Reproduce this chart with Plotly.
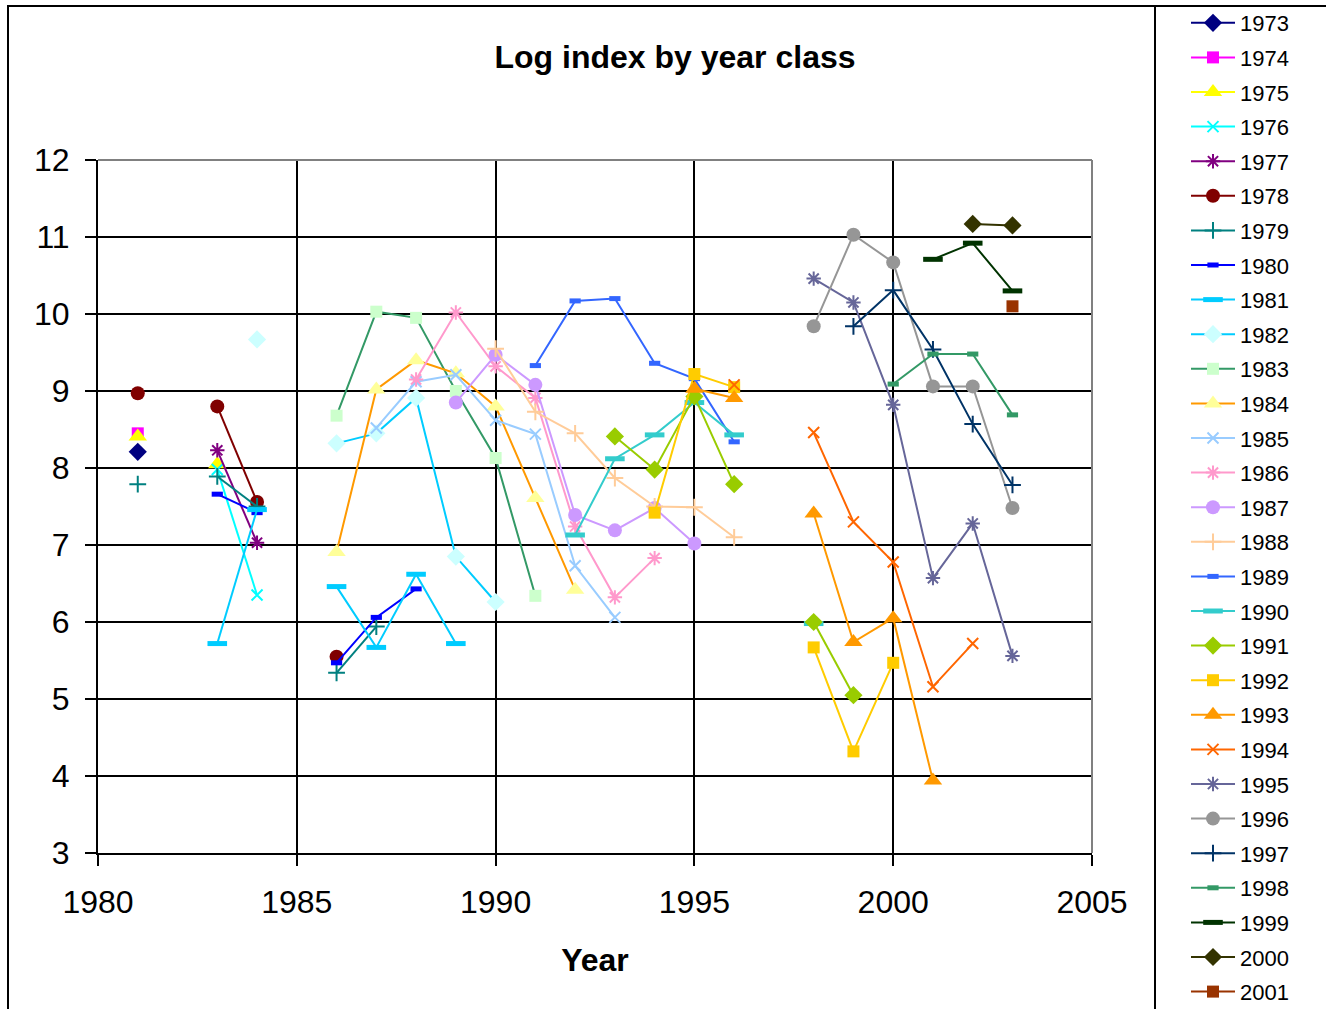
import plotly.graph_objects as go

SURVEY_YEARS = list(range(1981, 2004))

YEAR_CLASSES = ["1973", "1974", "1975", "1976", "1977", "1978", "1979", "1980",
                "1981", "1982", "1983", "1984", "1985", "1986", "1987", "1988",
                "1989", "1990", "1991", "1992", "1993", "1994", "1995", "1996",
                "1997", "1998", "1999", "2000", "2001"]

# survey year -> log index, per year class
yc1973 = {1981: 8.21}
yc1974 = {1981: 8.45}
yc1975 = {1981: 8.41, 1983: 8.05}
yc1976 = {1983: 7.98, 1984: 6.35}
yc1977 = {1983: 8.23, 1984: 7.03}
yc1978 = {1981: 8.97, 1983: 8.80, 1984: 7.56, 1986: 5.55}
yc1979 = {1981: 7.79, 1983: 7.89, 1984: 7.50, 1986: 5.34, 1987: 5.94}
yc1980 = {1983: 7.66, 1984: 7.42, 1986: 5.47, 1987: 6.06, 1988: 6.43}
yc1981 = {1983: 5.72, 1984: 7.46, 1986: 6.46, 1987: 5.67, 1988: 6.62, 1989: 5.72}
yc1982 = {1984: 9.67, 1986: 8.32, 1987: 8.45, 1988: 8.91, 1989: 6.85, 1990: 6.26}
yc1983 = {1986: 8.68, 1987: 10.03, 1988: 9.95, 1989: 9.00, 1990: 8.13, 1991: 6.34}
yc1984 = {1986: 6.91, 1987: 9.02, 1988: 9.40, 1989: 9.23, 1990: 8.80, 1991: 7.61, 1992: 6.42}
yc1985 = {1987: 8.52, 1988: 9.12, 1989: 9.21, 1990: 8.62, 1991: 8.44, 1992: 6.73, 1993: 6.06}
yc1986 = {1988: 9.15, 1989: 10.02, 1990: 9.32, 1991: 8.91, 1992: 7.24, 1993: 6.32, 1994: 6.83}
yc1987 = {1989: 8.85, 1990: 9.47, 1991: 9.08, 1992: 7.39, 1993: 7.19, 1994: 7.48, 1995: 7.02}
yc1988 = {1990: 9.55, 1991: 8.73, 1992: 8.45, 1993: 7.87, 1994: 7.50, 1995: 7.49, 1996: 7.10}
yc1989 = {1991: 9.33, 1992: 10.17, 1993: 10.20, 1994: 9.36, 1995: 9.16, 1996: 8.34}
yc1990 = {1992: 7.13, 1993: 8.12, 1994: 8.43, 1995: 8.85, 1996: 8.43, 1998: 5.98}
yc1991 = {1993: 8.41, 1994: 7.98, 1995: 8.93, 1996: 7.79, 1998: 6.00, 1999: 5.05}
yc1992 = {1994: 7.42, 1995: 9.22, 1996: 9.05, 1998: 5.67, 1999: 4.32, 2000: 5.47}
yc1993 = {1995: 9.03, 1996: 8.91, 1998: 7.41, 1999: 5.74, 2000: 6.05, 2001: 3.94}
yc1994 = {1996: 9.08, 1998: 8.46, 1999: 7.30, 2000: 6.78, 2001: 5.16, 2002: 5.72}
yc1995 = {1998: 10.46, 1999: 10.15, 2000: 8.82, 2001: 6.57, 2002: 7.28, 2003: 5.56}
yc1996 = {1998: 9.84, 1999: 11.03, 2000: 10.67, 2001: 9.06, 2002: 9.06, 2003: 7.48}
yc1997 = {1999: 9.84, 2000: 10.31, 2001: 9.54, 2002: 8.57, 2003: 7.78}
yc1998 = {2000: 9.09, 2001: 9.48, 2002: 9.48, 2003: 8.69}
yc1999 = {2001: 10.71, 2002: 10.92, 2003: 10.30}
yc2000 = {2002: 11.17, 2003: 11.15}
yc2001 = {2003: 10.10}

SERIES = [yc1973, yc1974, yc1975, yc1976, yc1977, yc1978, yc1979, yc1980, yc1981,
          yc1982, yc1983, yc1984, yc1985, yc1986, yc1987, yc1988, yc1989, yc1990,
          yc1991, yc1992, yc1993, yc1994, yc1995, yc1996, yc1997, yc1998, yc1999,
          yc2000, yc2001]

LINE_COLORS = ["#000080", "#FF00FF", "#FFFF00", "#00FFFF", "#800080", "#800000",
               "#008080", "#0000FF", "#00CCFF", "#00CCFF", "#339966", "#FF9900",
               "#99CCFF", "#FF99CC", "#CC99FF", "#FFCC99", "#3366FF", "#33CCCC",
               "#99CC00", "#FFCC00", "#FF9900", "#FF6600", "#666699", "#969696",
               "#003366", "#339966", "#003300", "#333300", "#993300"]
MARKER_COLORS = list(LINE_COLORS)
MARKER_COLORS[9] = "#CCFFFF"
MARKER_COLORS[10] = "#CCFFCC"
MARKER_COLORS[11] = "#FFFF99"

SYMBOL_CYCLE = ["diamond", "square", "triangle", "x", "asterisk", "circle",
                "plus", "shortdash", "longdash"]

SYMBOL_STYLE = {
    "diamond": dict(symbol="diamond", size=14, lw=0),
    "square": dict(symbol="square", size=12, lw=0),
    "triangle": dict(symbol="triangle-up", size=16, lw=0),
    "x": dict(symbol="x-thin-open", size=11, lw=2),
    "asterisk": dict(symbol="asterisk-open", size=12, lw=2),
    "circle": dict(symbol="circle", size=14, lw=0),
    "plus": dict(symbol="cross-thin-open", size=12, lw=2),
    "shortdash": dict(symbol="line-ew-open", size=8, lw=5),
    "longdash": dict(symbol="line-ew-open", size=14, lw=5),
}

FONT = "Liberation Sans, Arial, sans-serif"

fig = go.Figure()
for i, (name, data) in enumerate(zip(YEAR_CLASSES, SERIES)):
    yvals = [data.get(yr) for yr in SURVEY_YEARS]
    st = SYMBOL_STYLE[SYMBOL_CYCLE[i % len(SYMBOL_CYCLE)]]
    mc = MARKER_COLORS[i]
    fig.add_trace(go.Scatter(
        x=SURVEY_YEARS, y=yvals, name=name, mode="lines+markers",
        connectgaps=False, legendgroup=name,
        line=dict(color=LINE_COLORS[i], width=2),
        marker=dict(symbol=st["symbol"], size=st["size"], color=mc,
                    line=dict(width=st["lw"], color=mc)),
    ))

# pixel helpers for paper coords
PL, PR, PT, PB = 98, 1092, 160, 853
def px(x):
    return (x - PL) / (PR - PL)
def py(y):
    return (PB - y) / (PB - PT)

shapes = [
    # outer chart border
    dict(type="rect", xref="paper", yref="paper", x0=px(8), x1=px(1340),
         y0=py(6), y1=py(1030), line=dict(color="black", width=2), layer="below"),
    # legend box left border
    dict(type="line", xref="paper", yref="paper", x0=px(1155), x1=px(1155),
         y0=py(6), y1=py(1030), line=dict(color="black", width=2)),
    # plot area gray border top / right
    dict(type="line", xref="paper", yref="paper", x0=0, x1=1, y0=1, y1=1,
         line=dict(color="#808080", width=2), layer="above"),
    dict(type="line", xref="paper", yref="paper", x0=1, x1=1, y0=0, y1=1,
         line=dict(color="#808080", width=2), layer="above"),
]

fig.update_layout(
    width=1326, height=1009,
    margin=dict(l=PL, r=1326 - PR, t=PT, b=1009 - PB, autoexpand=False),
    paper_bgcolor="white", plot_bgcolor="white",
    font=dict(family=FONT, color="black", size=32),
    title=dict(text="<b>Log index by year class</b>", x=675 / 1326, xanchor="center",
               y=1 - 57 / 1009, yanchor="middle", font=dict(size=32, family=FONT)),
    xaxis=dict(range=[1980, 2005], tick0=1980, dtick=5, showgrid=True,
               gridcolor="black", gridwidth=2, showline=True, linecolor="black",
               linewidth=2, ticks="outside", ticklen=11, tickwidth=2,
               tickcolor="black", zeroline=False, ticklabelstandoff=9,
               tickfont=dict(size=32),
               title=dict(text="<b>Year</b>", font=dict(size=32), standoff=29)),
    yaxis=dict(range=[3, 12], tick0=3, dtick=1, showgrid=True,
               gridcolor="black", gridwidth=2, showline=True, linecolor="black",
               linewidth=2, ticks="outside", ticklen=11, tickwidth=2,
               tickcolor="black", zeroline=False, ticklabelstandoff=9,
               tickfont=dict(size=32)),
    legend=dict(x=px(1186), xanchor="left", y=py(2), yanchor="top",
                font=dict(size=22, family=FONT), tracegroupgap=3,
                itemwidth=44, bgcolor="rgba(0,0,0,0)", borderwidth=0,
                traceorder="grouped", maxheight=1300),
    shapes=shapes,
    showlegend=True,
)

fig.write_html("out.html", config={"displayModeBar": False, "staticPlot": True},
               post_script="document.body.style.margin='0';document.body.style.overflow='hidden';")
